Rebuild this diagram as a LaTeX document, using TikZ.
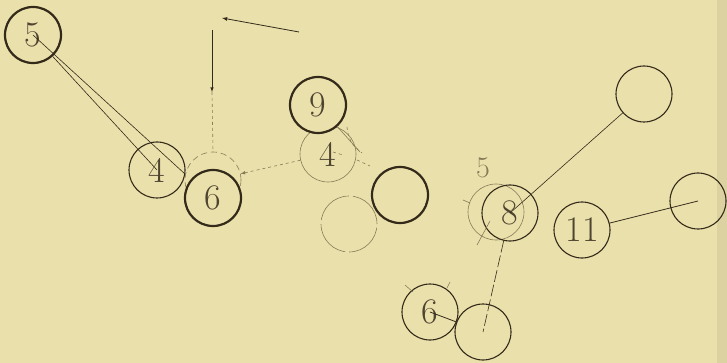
\documentclass[tikz,border=0pt]{standalone}
\usetikzlibrary{calc}
\definecolor{PaperClr}{RGB}{234,224,172}
\definecolor{InkClr}{RGB}{52,42,26}
\definecolor{FaintClr}{RGB}{135,122,86}
\definecolor{DigitClr}{RGB}{78,68,48}

\begin{document}
\begin{tikzpicture}[x=1pt,y=-1pt,
  disc/.style={circle,draw=InkClr,line width=1.1pt,minimum size=56pt,inner sep=0pt,
    text=DigitClr,font=\fontsize{36}{36}\selectfont},
  heavy/.style={line width=2.2pt},
  faint/.style={draw=FaintClr,line width=0.6pt},
  ink/.style={draw=InkClr,line width=0.8pt}]

\fill[PaperClr] (0,0) rectangle (727,363);
\fill[PaperClr!85!black,opacity=.4] (717,0) rectangle (727,363);

\node[disc,heavy] (n5) at (33,35) {5};
\node[disc] (n4a) at (157,170) {4};
\node[disc,faint,dash pattern=on 6pt off 4pt] (g6) at (213,180) {};
\node[disc,heavy,fill=PaperClr] (n6) at (213,198) {6};

\node[disc,faint] (n4b) at (328,154) {4};
\node[disc,heavy,fill=PaperClr] (n9) at (318,105) {9};
\node[disc,heavy] (nb) at (400,195) {};
\node[disc,faint,dash pattern=on 40pt off 4pt] (nf) at (349,224) {};

\node[disc,faint] (n5b) at (496,212) {};
\node[text=FaintClr,font=\fontsize{30}{30}\selectfont] (l5) at (483,168) {5};
\node[disc] (n8) at (510,213) {8};
\node[disc] (n6b) at (430,312) {6};
\node[disc] (n7) at (483,332) {};

\node[disc] (ntr) at (644,94) {};
\node[disc] (nr) at (698,201) {};
\node[disc] (n11) at (582,230) {11};

\coordinate (j) at (185,174);
\coordinate (va) at (212,30);
\coordinate (vm) at (212,92);
\coordinate (ta) at (299,32);
\coordinate (tb) at (222,18);
\coordinate (c9) at (360,152);

% lines out of 5
\draw[ink,line width=0.6pt] (n5.center) -- (j);
\draw[ink,line width=0.6pt] (n5) -- (n4a.center);

% arrows at the top
\draw[ink,line width=0.6pt,-latex] (va) -- (vm);
\draw[faint,dashed] (vm) -- (g6.north);
\draw[ink,-latex] (ta) -- (tb);

\draw[faint,dashed,-latex] (n4b) -- (g6);
\draw[faint] (n9) -- (c9);
\draw[faint,dashed] (347,127) to[bend right=25] (362,153);
\draw[faint,dashed] (333,152) -- (343,155);
\draw[faint,dashed] (357,160) -- (370,166);

\draw[ink] (n6b.center) -- (n7);
\draw[ink,line width=0.6pt,dash pattern=on 12pt off 3pt] (n8) -- (n7.center);
\draw[ink,line width=0.6pt] (ntr) -- (n8.center);
\draw[faint] (490,221) -- (477,245);
\draw[ink] (n11) -- (nr.center);

% small marks
\draw[faint] (405,285) -- (413,292);
\draw[faint] (450,282) -- (447,288);
\draw[faint] (463,200) -- (470,203);

\end{tikzpicture}
\end{document}
